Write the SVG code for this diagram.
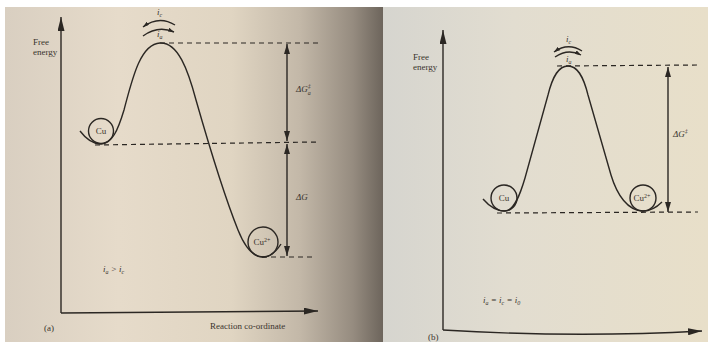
<svg xmlns="http://www.w3.org/2000/svg" width="708" height="342" viewBox="0 0 708 342">
<defs>
<linearGradient id="bgA" x1="0" y1="0" x2="1" y2="0">
<stop offset="0" stop-color="#d9cfc1"/>
<stop offset="0.3" stop-color="#e6dbca"/>
<stop offset="0.6" stop-color="#e0d5c2"/>
<stop offset="0.78" stop-color="#c3b8a8"/>
<stop offset="0.92" stop-color="#968c80"/>
<stop offset="1" stop-color="#6d655c"/>
</linearGradient>
<linearGradient id="bgB" x1="0" y1="0" x2="1" y2="0">
<stop offset="0" stop-color="#d6d5cf"/>
<stop offset="0.4" stop-color="#e2ddd0"/>
<stop offset="1" stop-color="#e8dfc9"/>
</linearGradient>
<marker id="ah" viewBox="0 0 10 6" refX="10" refY="3" markerWidth="10" markerHeight="6" markerUnits="userSpaceOnUse" orient="auto-start-reverse">
<path d="M0,0 L10,3 L0,6 Z" fill="#2b2723"/>
</marker>
<marker id="axh" viewBox="0 0 14 7" refX="14" refY="3.5" markerWidth="14" markerHeight="7" markerUnits="userSpaceOnUse" orient="auto">
<path d="M0,0 L14,3.5 L0,7 Z" fill="#2b2723"/>
</marker>
<marker id="sh" viewBox="0 0 6 4" refX="6" refY="2" markerWidth="6" markerHeight="4" markerUnits="userSpaceOnUse" orient="auto">
<path d="M0,0 L6,2 L0,4 Z" fill="#2b2723"/>
</marker>
</defs>
<style>
.ln{fill:none;stroke:#2b2723;stroke-width:1.4}
.dash{fill:none;stroke:#2b2723;stroke-width:1.2;stroke-dasharray:5,4}
.ball{fill:none;stroke:#2b2723;stroke-width:1.4}
.t{font-family:"Liberation Serif","Times New Roman",serif;fill:#3a342e;font-size:9px}
.ti{font-family:"Liberation Serif","Times New Roman",serif;fill:#3a342e;font-size:9px;font-style:italic}
</style>
<rect x="0" y="0" width="708" height="342" fill="#ffffff"/>
<rect x="5" y="7" width="378" height="335" fill="url(#bgA)"/>
<rect x="383" y="7" width="325" height="335" fill="url(#bgB)"/>

<g id="panel-a">
<g id="axes-a">
<line class="ln" x1="61" y1="313" x2="61" y2="17" marker-end="url(#axh)"/>
<path class="ln" d="M61,313 L318,311" marker-end="url(#axh)"/>
<text class="t" x="33" y="45">Free</text>
<text class="t" x="33" y="55">energy</text>
<text class="t" x="210" y="329">Reaction co-ordinate</text>
<text class="t" x="44" y="331">(a)</text>
<text class="ti" x="103" y="272">i<tspan font-size="6" dy="2">a</tspan><tspan dy="-2"> &gt; i</tspan><tspan font-size="6" dy="2">c</tspan></text>
</g>
<g id="curve-a">
<path class="ln" d="M80,131 C86,139 93,144 101,144 C112,144 118,130 124,110 C132,80 140,44 160,43 C178,42 188,70 196,100 C206,135 222,190 238,230 C246,250 254,257 263,257 C271,257 276,252 281,244"/>
</g>
<g id="cu-a">
<circle class="ball" cx="101" cy="131" r="12.5"/>
<text class="t" x="101" y="134" text-anchor="middle">Cu</text>
</g>
<g id="cu2-a">
<circle class="ball" cx="263" cy="242" r="15"/>
<text class="t" x="262" y="245" text-anchor="middle">Cu<tspan font-size="6" dy="-3">2+</tspan></text>
</g>
<g id="currents-a">
<path class="ln" d="M175,25 Q159,15 143,27" marker-end="url(#sh)" stroke-width="1.6"/>
<path class="ln" d="M143,36 Q158,25 174,32" marker-end="url(#sh)" stroke-width="1.6"/>
<text class="ti" x="157" y="15">i<tspan font-size="6" dy="2">c</tspan></text>
<text class="ti" x="157" y="37">i<tspan font-size="6" dy="2">a</tspan></text>
</g>
<g id="levels-a">
<path class="dash" d="M160,43 L318,43"/>
<path class="dash" d="M95,145 L318,142"/>
<path class="dash" d="M262,257 L313,257"/>
<line class="ln" x1="287" y1="44" x2="287" y2="141" marker-start="url(#ah)" marker-end="url(#ah)"/>
<line class="ln" x1="287" y1="144" x2="287" y2="256" marker-start="url(#ah)" marker-end="url(#ah)"/>
<text class="ti" x="296" y="92">ΔG<tspan font-size="6" dy="-4">‡</tspan><tspan font-size="6" dx="-3" dy="7">a</tspan></text>
<text class="ti" x="296" y="200">ΔG</text>
</g>
</g>

<g id="panel-b">
<g id="axes-b">
<line class="ln" x1="443" y1="330" x2="443" y2="30" marker-end="url(#axh)"/>
<path class="ln" d="M443,330 Q575,338 702,331" marker-end="url(#axh)"/>
<text class="t" x="413" y="60">Free</text>
<text class="t" x="413" y="70">energy</text>
<text class="t" x="428" y="340" font-size="8">(b)</text>
<text class="ti" x="483" y="303">i<tspan font-size="6" dy="2">a</tspan><tspan dy="-2"> = i</tspan><tspan font-size="6" dy="2">c</tspan><tspan dy="-2"> = i</tspan><tspan font-size="6" dy="2">0</tspan></text>
</g>
<g id="curve-b">
<path class="ln" d="M483,199 C489,206 496,211 505,211 C514,211 520,195 525,178 L548,95 C553,75 559,66 568,66 C577,66 583,75 588,95 L611,175 C617,195 628,211 643,211 C651,211 657,207 662,202"/>
</g>
<g id="cu-b">
<circle class="ball" cx="504" cy="198" r="13"/>
<text class="t" x="504" y="201" text-anchor="middle">Cu</text>
</g>
<g id="cu2-b">
<circle class="ball" cx="643" cy="198" r="13"/>
<text class="t" x="642" y="201" text-anchor="middle">Cu<tspan font-size="6" dy="-3">2+</tspan></text>
</g>
<g id="currents-b">
<path class="ln" d="M582,51 Q568,42 554,52" marker-end="url(#sh)" stroke-width="1.6"/>
<path class="ln" d="M555,57 Q568,48 581,55" marker-end="url(#sh)" stroke-width="1.6"/>
<text class="ti" x="566" y="42">i<tspan font-size="6" dy="2">c</tspan></text>
<text class="ti" x="566" y="62">i<tspan font-size="6" dy="2">a</tspan></text>
</g>
<g id="levels-b">
<path class="dash" d="M557,66 L698,65"/>
<path class="dash" d="M497,213 L698,212"/>
<line class="ln" x1="668" y1="67" x2="668" y2="212" marker-start="url(#ah)" marker-end="url(#ah)"/>
<text class="ti" x="673" y="137">ΔG<tspan font-size="6" dy="-4">‡</tspan></text>
</g>
</g>
</svg>
